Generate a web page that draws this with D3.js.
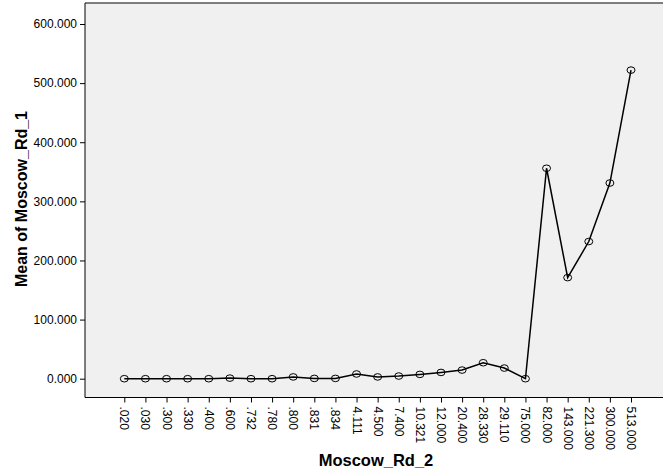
<!DOCTYPE html>
<meta charset="utf-8">
<head>
    <script type="text/javascript" src="https://cdn.jsdelivr.net/npm/d3@7"></script>
    <style>
        body { margin: 0; background: #fff; }
        text { font-family: "Liberation Sans", Arial, sans-serif; }
    </style>
</head>
<body>
    <div id="chart"></div>
    <script>

        // categories on the x axis (Moscow_Rd_2) and the mean of Moscow_Rd_1 for each
        let categories = ['.020', '.030', '.300', '.330', '.400', '.600', '.732', '.780', '.800', '.831', '.834',
            '4.111', '4.500', '7.400', '10.321', '12.000', '20.400', '28.330', '29.110', '75.000',
            '82.000', '143.000', '221.300', '300.000', '513.000']
        let means = [0, 0, 0, 0, 0, 1, 0, 0, 3, 0.5, 0.5,
            8, 3, 4.5, 7.3, 10.6, 14.6, 27, 18, 0,
            356, 171, 232, 331, 522]
        let yTicks = [0, 100, 200, 300, 400, 500, 600]

        let svg_width = 663
        let svg_height = 473

        let plot = { left: 85, top: 3, right: 663, bottom: 397.5 }

        let svg = d3.select("#chart")
            .append("svg")
            .attr("width", svg_width)
            .attr("height", svg_height)

        // plot background
        svg.append("rect")
            .attr("x", plot.left)
            .attr("y", plot.top)
            .attr("width", plot.right - plot.left)
            .attr("height", plot.bottom - plot.top)
            .attr("fill", "#f0f0f0")

        svg.append("line")
            .attr("x1", plot.left).attr("x2", plot.right)
            .attr("y1", plot.top).attr("y2", plot.top)
            .attr("stroke", "#555")
            .attr("stroke-width", 1.5)

        let x = d3.scalePoint()
            .domain(categories)
            .range([124.3, 631])

        let y = d3.scaleLinear()
            .domain([0, 600])
            .range([378.7, 24])

        // y axis
        let yAxis = svg.append("g")
            .attr("transform", "translate(" + plot.left + ",0)")
            .call(d3.axisLeft(y).tickValues(yTicks).tickSize(5).tickPadding(3)
                .tickFormat(d3.format(".3f")))
        yAxis.select(".domain").attr("d", "M0," + plot.top + "V" + plot.bottom).attr("stroke", "#000")
        yAxis.selectAll("text").attr("font-size", "12px").attr("fill", "#000")
        yAxis.selectAll("line").attr("stroke", "#000")

        // x axis
        let xAxis = svg.append("g")
            .attr("transform", "translate(0," + plot.bottom + ")")
            .call(d3.axisBottom(x).tickSize(5).tickPadding(0))
        xAxis.select(".domain").attr("d", "M" + plot.left + ",0H" + plot.right).attr("stroke", "#000")
        xAxis.selectAll("line").attr("stroke", "#000")
        xAxis.selectAll("text")
            .attr("font-size", "12px")
            .attr("fill", "#000")
            .attr("text-anchor", "start")
            .attr("dy", null)
            .attr("y", 0)
            .attr("transform", "translate(-4.5,9) rotate(90)")

        // line and markers
        let points = categories.map(function (c, i) { return { cat: c, value: means[i] } })

        svg.append("path")
            .datum(points)
            .attr("fill", "none")
            .attr("stroke", "#000")
            .attr("stroke-width", 1.5)
            .attr("d", d3.line()
                .x(function (d) { return x(d.cat) })
                .y(function (d) { return y(d.value) }))

        svg.append("g")
            .selectAll("ellipse")
            .data(points)
            .enter()
            .append("ellipse")
            .attr("cx", function (d) { return x(d.cat) })
            .attr("cy", function (d) { return y(d.value) })
            .attr("rx", 4)
            .attr("ry", 3.3)
            .attr("fill", "none")
            .attr("stroke", "#000")
            .attr("stroke-width", 1)

        // axis titles
        svg.append("text")
            .attr("transform", "translate(27,199) rotate(-90)")
            .attr("text-anchor", "middle")
            .attr("font-size", "16px")
            .attr("font-weight", "bold")
            .text("Mean of Moscow_Rd_1")

        svg.append("text")
            .attr("x", 376)
            .attr("y", 466)
            .attr("text-anchor", "middle")
            .attr("font-size", "16.5px")
            .attr("font-weight", "bold")
            .text("Moscow_Rd_2")

    </script>
</body>
</html>
